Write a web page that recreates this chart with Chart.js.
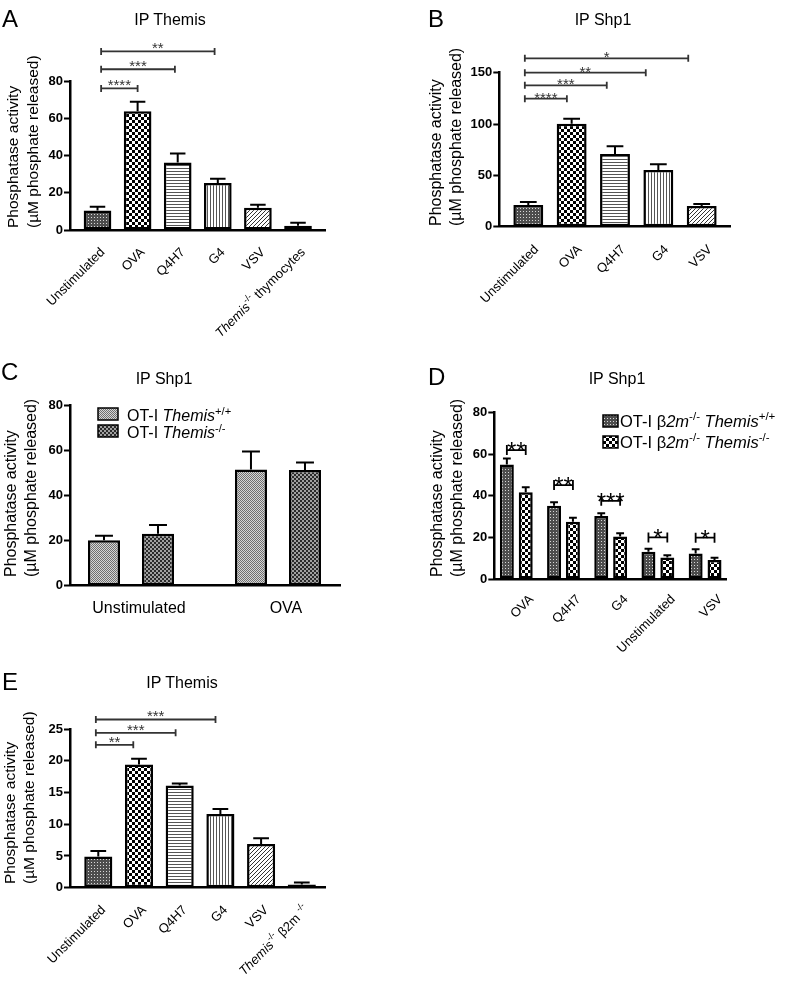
<!DOCTYPE html>
<html>
<head>
<meta charset="utf-8">
<script src="https://cdn.jsdelivr.net/npm/chart.js@4.4.1/dist/chart.umd.min.js"></script>
<style>
body { margin: 0; background: #fff; }
#fig { position: relative; width: 800px; height: 987px; overflow: hidden; font-family: "Liberation Sans", Arial, sans-serif; color: #000; }
#fig canvas { position: absolute; left: 0; top: 0; }
.lt { position: absolute; line-height: 0; font-size: 24px; white-space: nowrap; }
.tt { position: absolute; line-height: 0; font-size: 16px; width: 200px; text-align: center; white-space: nowrap; }
</style>
</head>
<body>
<div id="fig">
  <canvas id="cA" width="800" height="987"></canvas>
  <canvas id="cB" width="800" height="987"></canvas>
  <canvas id="cC" width="800" height="987"></canvas>
  <canvas id="cD" width="800" height="987"></canvas>
  <canvas id="cE" width="800" height="987"></canvas>

  <div class="lt" style="left:2px;top:18.7px">A</div>
  <div class="tt" style="left:70px;top:19.5px">IP Themis</div>
  <div class="lt" style="left:428px;top:18.7px">B</div>
  <div class="tt" style="left:503px;top:19.5px">IP Shp1</div>
  <div class="lt" style="left:1px;top:371.7px">C</div>
  <div class="tt" style="left:64px;top:378.5px">IP Shp1</div>
  <div class="lt" style="left:428px;top:376.7px">D</div>
  <div class="tt" style="left:517px;top:378.5px">IP Shp1</div>
  <div class="lt" style="left:2px;top:681.7px">E</div>
  <div class="tt" style="left:82px;top:682.5px">IP Themis</div>
</div>
<script>
const FONT = '"Liberation Sans", Arial, sans-serif';
Chart.defaults.font.family = FONT;
Chart.defaults.color = '#000';

// _x_ = italic, ^x^ = superscript
const yTitle = ['Phosphatase activity', '(µM phosphate released)'];

// A - IP Themis
const catsA = ['Unstimulated', 'OVA', 'Q4H7', 'G4', 'VSV', '_Themis_^-/-^ thymocytes'];
const valsA = [10.5, 63.8, 36.3, 25.2, 12.0, 2.3];
const errA = [2.0, 5.0, 4.8, 2.3, 1.6, 1.6];
const ticksA = [0, 20, 40, 60, 80];
const sigA = [[0.09, 1.0, 76, '****'], [0.09, 1.93, 86.3, '***'], [0.09, 2.92, 95.9, '**']];

// B - IP Shp1
const catsB = ['Unstimulated', 'OVA', 'Q4H7', 'G4', 'VSV'];
const valsB = [21.1, 100.3, 70.8, 55.2, 20.2];
const errB = [2.9, 4.9, 7.5, 5.6, 1.9];
const ticksB = [0, 50, 100, 150];
const sigB = [[-0.08, 0.89, 124.7, '****'], [-0.08, 1.81, 137.7, '***'], [-0.08, 2.71, 150, '**'], [-0.08, 3.69, 164, '*']];

// C - IP Shp1, OT-I Themis +/+ vs -/-
const catsC = ['Unstimulated', 'OVA'];
const seriesC = ['OT-I _Themis_^+/+^', 'OT-I _Themis_^-/-^'];
const valsCwt = [20.2, 51.7];
const errCwt = [2.0, 7.9];
const valsCko = [23.1, 51.4];
const errCko = [3.9, 3.4];
const ticksC = [0, 20, 40, 60, 80];

// D - IP Shp1, OT-I b2m-/- Themis +/+ vs -/-
const catsD = ['OVA', 'Q4H7', 'G4', 'Unstimulated', 'VSV'];
const seriesD = ['OT-I β_2m_^-/-^ _Themis_^+/+^', 'OT-I β_2m_^-/-^ _Themis_^-/-^'];
const valsDwt = [55.1, 35.2, 30.3, 13.1, 12.3];
const errDwt = [2.9, 1.7, 1.3, 1.5, 2.0];
const valsDko = [41.7, 27.5, 20.5, 10.4, 9.1];
const errDko = [2.4, 2.0, 1.5, 1.0, 1.1];
const ticksD = [0, 20, 40, 60, 80];
const sigD = [[-0.2, 0.2, 62, '**'], [0.8, 1.2, 45.2, '**'], [1.8, 2.2, 37.6, '***'], [2.8, 3.2, 20, '*'], [3.8, 4.2, 19.9, '*']];

// E - IP Themis
const catsE = ['Unstimulated', 'OVA', 'Q4H7', 'G4', 'VSV', '_Themis_^-/-^ β2m ^-/-^'];
const valsE = [4.9, 19.4, 16.1, 11.6, 6.9, 0.5];
const errE = [0.9, 0.9, 0.3, 0.8, 0.9, 0.3];
const ticksE = [0, 5, 10, 15, 20, 25];
const sigE = [[-0.06, 0.86, 22.5, '**'], [-0.06, 1.90, 24.4, '***'], [-0.06, 2.88, 26.5, '***']];

// fill patterns
function pat(w, h, paint) {
    const c = document.createElement('canvas');
    c.width = w; c.height = h;
    const g = c.getContext('2d');
    paint(g);
    return g.createPattern(c, 'repeat');
}
function checker(n, a, b) {
    return pat(n * 2, n * 2, g => {
        g.fillStyle = b; g.fillRect(0, 0, n * 2, n * 2);
        g.fillStyle = a; g.fillRect(0, 0, n, n); g.fillRect(n, n, n, n);
    });
}
const fills = {
    dots: pat(3, 3, g => { g.fillStyle = '#4d4d4d'; g.fillRect(0, 0, 3, 3); g.fillStyle = '#d8d8d8'; g.fillRect(1, 1, 1, 1); }),
    check: checker(3, '#000', '#fff'),
    hline: pat(3, 3, g => { g.fillStyle = '#fff'; g.fillRect(0, 0, 3, 3); g.fillStyle = '#555'; g.fillRect(0, 0, 3, 1); }),
    vline: pat(3, 3, g => { g.fillStyle = '#fff'; g.fillRect(0, 0, 3, 3); g.fillStyle = '#555'; g.fillRect(0, 0, 1, 3); }),
    diag: pat(4, 4, g => { g.fillStyle = '#fff'; g.fillRect(0, 0, 4, 4); g.fillStyle = '#333'; for (let i = 0; i < 4; i++) g.fillRect(i, 3 - i, 1, 1); }),
    light: checker(1, '#6f6f6f', '#d6d6d6'),
    coarse: checker(2, '#2a2a2a', '#a0a0a0'),
    solid: '#000'
};

function parseRich(s) {
    const segs = [];
    let it = false, sup = false, buf = '';
    for (const ch of s) {
        if (ch === '_' || ch === '^') {
            if (buf) segs.push({ t: buf, it, sup });
            buf = '';
            if (ch === '_') it = !it; else sup = !sup;
        } else buf += ch;
    }
    if (buf) segs.push({ t: buf, it, sup });
    return segs;
}
function richFont(s, size) {
    return (s.it ? 'italic ' : '') + (s.sup ? size * 0.7 : size) + 'px ' + FONT;
}
function drawRich(ctx, str, x, y, size, align) {
    const segs = parseRich(str);
    let w = 0;
    segs.forEach(s => { ctx.font = richFont(s, size); s.w = ctx.measureText(s.t).width; w += s.w; });
    let cx = align === 'right' ? x - w : align === 'center' ? x - w / 2 : x;
    ctx.textAlign = 'left';
    segs.forEach(s => {
        ctx.font = richFont(s, size);
        ctx.fillText(s.t, cx, s.sup ? y - size * 0.4 : y);
        cx += s.w;
    });
}

function figPlugin(cfg) {
    return {
        id: 'fig',
        afterDatasetsDraw(chart) {
            const ctx = chart.ctx, ys = chart.scales.y;
            ctx.save();
            ctx.strokeStyle = '#000';
            ctx.lineWidth = 2;
            chart.data.datasets.forEach((ds, d) => {
                chart.getDatasetMeta(d).data.forEach((bar, i) => {
                    const top = ys.getPixelForValue(ds.data[i].y + ds.errors[i]);
                    const half = bar.width * 0.28;
                    ctx.beginPath();
                    ctx.moveTo(bar.x, bar.y); ctx.lineTo(bar.x, top);
                    ctx.moveTo(bar.x - half, top); ctx.lineTo(bar.x + half, top);
                    ctx.stroke();
                });
            });
            ctx.restore();
        },
        afterDraw(chart) {
            const ctx = chart.ctx, xs = chart.scales.x, ys = chart.scales.y, area = chart.chartArea;
            ctx.save();
            ctx.fillStyle = '#000';

            // significance brackets
            const S = cfg.star;
            (cfg.sig || []).forEach(([a, b, v, t]) => {
                const x1 = xs.getPixelForValue(a), x2 = xs.getPixelForValue(b), y = ys.getPixelForValue(v);
                ctx.strokeStyle = S.color; ctx.lineWidth = 1.8;
                ctx.beginPath();
                ctx.moveTo(x1, y); ctx.lineTo(x2, y);
                ctx.moveTo(x1, y - S.tick); ctx.lineTo(x1, y + S.tick);
                ctx.moveTo(x2, y - S.tick); ctx.lineTo(x2, y + S.tick);
                ctx.stroke();
                ctx.fillStyle = S.color;
                ctx.font = S.font + 'px ' + FONT;
                ctx.textAlign = 'center'; ctx.textBaseline = 'alphabetic';
                ctx.fillText(t, (x1 + x2) / 2, y + S.dy);
            });

            // category labels
            ctx.fillStyle = '#000';
            const L = cfg.xlab;
            cfg.cats.forEach((lab, i) => {
                ctx.save();
                ctx.translate(xs.getPixelForValue(i) + L.dx, area.bottom + L.dy);
                if (L.rot) ctx.rotate(-Math.PI / 4);
                ctx.textBaseline = L.rot ? 'middle' : 'alphabetic';
                drawRich(ctx, lab, 0, 0, L.size, L.rot ? 'right' : 'center');
                ctx.restore();
            });

            // y title, two lines reading upward
            const T = cfg.ytitle;
            ctx.font = T.size + 'px ' + FONT;
            ctx.textAlign = 'left'; ctx.textBaseline = 'alphabetic';
            [T.x1, T.x2].forEach((x, k) => {
                ctx.save();
                ctx.translate(x, T.y0);
                ctx.rotate(-Math.PI / 2);
                ctx.fillText(yTitle[k], 0, 0);
                ctx.restore();
            });

            // legend
            if (cfg.legend) {
                const G = cfg.legend;
                chart.data.datasets.forEach((ds, k) => {
                    const sy = G.sy + k * G.step;
                    ctx.fillStyle = ds.backgroundColor;
                    ctx.fillRect(G.sx, sy, G.sw, G.sh);
                    ctx.strokeStyle = '#000'; ctx.lineWidth = 1.5;
                    ctx.strokeRect(G.sx, sy, G.sw, G.sh);
                    ctx.fillStyle = '#000';
                    ctx.textBaseline = 'alphabetic';
                    drawRich(ctx, ds.label, G.tx, G.ty + k * G.step, G.size, 'left');
                });
            }
            ctx.restore();
        }
    };
}

function bars(vals, errs, fill, extra) {
    return Object.assign({
        data: vals.map((v, i) => ({ x: i, y: v })),
        errors: errs,
        backgroundColor: fill,
        borderColor: '#000',
        borderWidth: 2.5,
        borderSkipped: false
    }, extra);
}

function makeChart(id, o) {
    const t = o.ticks;
    return new Chart(document.getElementById(id), {
        type: 'bar',
        data: { datasets: o.datasets },
        options: {
            responsive: false,
            animation: false,
            events: [],
            layout: { padding: o.pad },
            plugins: { legend: { display: false }, tooltip: { enabled: false } },
            scales: {
                x: {
                    type: 'linear', min: o.xr[0], max: o.xr[1], bounds: 'data', offset: false,
                    afterBuildTicks: s => { s.ticks = s.ticks.filter(k => Number.isInteger(k.value)); },
                    afterFit: s => { s.height = 10; },
                    ticks: { display: false, stepSize: 1, includeBounds: false },
                    grid: { offset: false, drawOnChartArea: false, drawTicks: true, tickLength: 6, tickWidth: 2, tickColor: '#000', color: '#000' },
                    border: { display: true, color: '#000', width: 2.5 }
                },
                y: {
                    min: t[0], max: t[t.length - 1],
                    afterFit: s => { s.width = 40; },
                    ticks: { stepSize: t[1] - t[0], padding: 1, color: '#000', font: { size: 13, weight: 'bold' } },
                    grid: { drawOnChartArea: false, tickLength: 6, tickWidth: 2, tickColor: '#000', color: '#000' },
                    border: { display: true, color: '#000', width: 2.5 }
                }
            }
        },
        plugins: [figPlugin(o)]
    });
}

const fillsSingle = [fills.dots, fills.check, fills.hline, fills.vline, fills.diag, fills.solid];

makeChart('cA', {
    ticks: ticksA, cats: catsA, sig: sigA,
    datasets: [bars(valsA, errA, fillsSingle, { categoryPercentage: 1, barPercentage: 0.69 })],
    pad: { left: 30, top: 81, right: 475, bottom: 747 }, xr: [-0.686, 5.673],
    star: { font: 15, dy: 2, tick: 3.5, color: '#333' },
    xlab: { rot: true, dx: 5.3, dy: 20.3, size: 13 },
    ytitle: { x1: 18, x2: 38, y0: 228, size: 15.5 }
});

makeChart('cB', {
    ticks: ticksB, cats: catsB, sig: sigB,
    datasets: [bars(valsB, errB, fillsSingle.slice(0, 5), { categoryPercentage: 1, barPercentage: 0.69 })],
    pad: { left: 459.3, top: 72.7, right: 70, bottom: 750.3 }, xr: [-0.669, 4.653],
    star: { font: 15, dy: 4, tick: 3.5, color: '#333' },
    xlab: { rot: true, dx: 8.3, dy: 20.8, size: 13 },
    ytitle: { x1: 441, x2: 461, y0: 226, size: 16 }
});

makeChart('cC', {
    ticks: ticksC, cats: catsC,
    datasets: [
        bars(valsCwt, errCwt, fills.light, { label: seriesC[0], categoryPercentage: 0.735, barPercentage: 0.593 }),
        bars(valsCko, errCko, fills.coarse, { label: seriesC[1], categoryPercentage: 0.735, barPercentage: 0.593 })
    ],
    pad: { left: 30, top: 405.7, right: 460, bottom: 391.3 }, xr: [-0.415, 1.422],
    star: { font: 15, dy: 2, tick: 3.5, color: '#333' },
    xlab: { rot: false, dx: 8, dy: 27, size: 16 },
    ytitle: { x1: 16, x2: 36, y0: 577, size: 16 },
    legend: { sx: 98, sy: 408, sw: 20, sh: 12, step: 17, tx: 127, ty: 421, size: 16 }
});

makeChart('cD', {
    ticks: ticksD, cats: catsD, sig: sigD,
    datasets: [
        bars(valsDwt, errDwt, fills.dots, { label: seriesD[0], categoryPercentage: 0.8, barPercentage: 0.74 }),
        bars(valsDko, errDko, fills.check, { label: seriesD[1], categoryPercentage: 0.8, barPercentage: 0.74 })
    ],
    pad: { left: 454.3, top: 412.7, right: 73.3, bottom: 398 }, xr: [-0.466, 4.458],
    star: { font: 24, dy: 9, tick: 5, color: '#000' },
    xlab: { rot: true, dx: 15.3, dy: 18.3, size: 13 },
    ytitle: { x1: 442, x2: 462, y0: 577, size: 16 },
    legend: { sx: 603, sy: 415, sw: 15, sh: 12, step: 21, tx: 620, ty: 427, size: 16.5 }
});

makeChart('cE', {
    ticks: ticksE, cats: catsE, sig: sigE,
    datasets: [bars(valsE, errE, fillsSingle, { categoryPercentage: 1, barPercentage: 0.69 })],
    pad: { left: 30, top: 729, right: 475, bottom: 89.3 }, xr: [-0.695, 5.570],
    star: { font: 15, dy: 2, tick: 3.5, color: '#333' },
    xlab: { rot: true, dx: 5.3, dy: 20.3, size: 13 },
    ytitle: { x1: 15, x2: 34, y0: 884, size: 15.5 }
});
</script>
</body>
</html>
